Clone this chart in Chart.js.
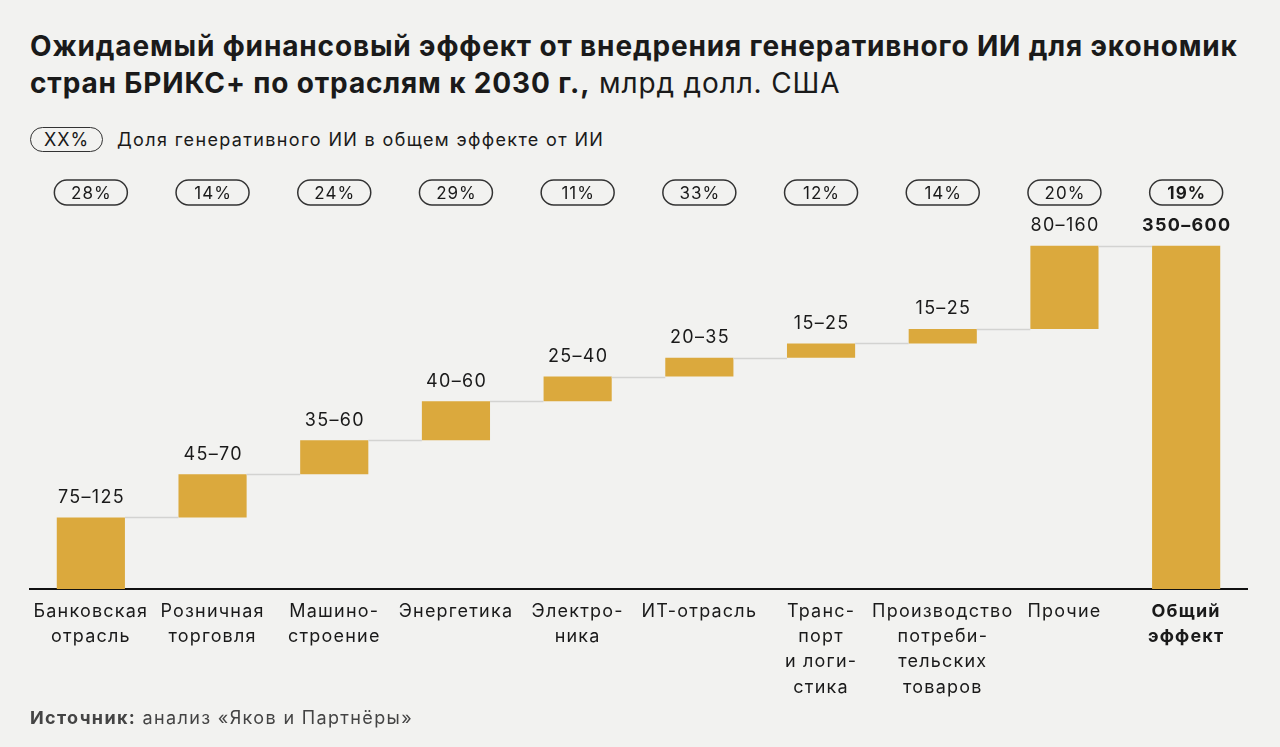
<!DOCTYPE html>
<html><head><meta charset="utf-8">
<script src="https://cdn.jsdelivr.net/npm/chart.js@4"></script>
<style>
html,body{margin:0;padding:0;background:#f2f2f0;}
body{width:1280px;height:747px;position:relative;overflow:hidden;font-family:Inter,'Noto Sans',sans-serif;color:#1a1a1a;}
#wrap{position:absolute;left:0;top:0;width:1280px;height:747px;}
.title{position:absolute;left:30px;top:28px;font-size:28px;line-height:37px;font-weight:700;white-space:nowrap;letter-spacing:0.85px;}
.title .u{font-weight:400}
.legend{position:absolute;left:30px;top:127px;height:25px;display:flex;align-items:center;font-size:18px;}
.legend span{letter-spacing:1.35px;}
.pill{border:1.5px solid #333;border-radius:13px;width:73px;height:25px;display:flex;align-items:center;justify-content:center;box-sizing:border-box;margin-right:14px;letter-spacing:1px;}
.source{position:absolute;left:30px;top:707px;font-size:18px;color:#444;letter-spacing:1.35px;}
.source b{font-weight:700;}
</style></head>
<body>
<div class="title">Ожидаемый финансовый эффект от внедрения генеративного ИИ для экономик<br>стран БРИКС+ по отраслям к 2030 г.,<span class="u"> млрд долл. США</span></div>
<div class="legend"><div class="pill">XX%</div><span>Доля генеративного ИИ в общем эффекте от ИИ</span></div>
<div id="wrap"><canvas id="c" width="1280" height="747"></canvas></div>
<div class="source"><b>Источник:</b> анализ «Яков и Партнёры»</div>
<script>
const categories = [["Банковская","отрасль"],["Розничная","торговля"],["Машино-","строение"],["Энергетика"],["Электро-","ника"],["ИТ-отрасль"],["Транс-","порт","и логи-","стика"],["Производство","потреби-","тельских","товаров"],["Прочие"],["Общий","эффект"]];
const rangeLow = [75,45,35,40,25,20,15,15,80,350];
const rangeHigh = [125,70,60,60,40,35,25,25,160,600];
const stepValues = [99,60,47,54,34,26,20,20,115];
const genAIShare = [28,14,24,29,11,33,12,14,20,19];

const n = categories.length;
const floating = [];
let acc = 0;
for (let i = 0; i < stepValues.length; i++) { floating.push([acc, acc + stepValues[i]]); acc += stepValues[i]; }
floating.push([0, acc]);
const tops = floating.map(d => d[1]);

const FONT = "Inter, 'Noto Sans', sans-serif";

const spacing = {
  id: 'spacing',
  beforeDraw(chart) { chart.ctx.letterSpacing = '1.2px'; }
};

const annot = {
  id: 'annot',
  afterDatasetsDraw(chart) {
    const ctx = chart.ctx, meta = chart.getDatasetMeta(0), y = chart.scales.y;
    ctx.save();
    ctx.strokeStyle = '#d3d3d1'; ctx.lineWidth = 1.5;
    for (let i = 0; i < n - 1; i++) {
      const a = meta.data[i], b = meta.data[i + 1];
      const yy = Math.round(y.getPixelForValue(tops[i])) + 0.5;
      ctx.beginPath(); ctx.moveTo(a.x + a.width / 2, yy); ctx.lineTo(b.x - b.width / 2, yy); ctx.stroke();
    }
    ctx.textAlign = 'center'; ctx.textBaseline = 'middle'; ctx.fillStyle = '#1a1a1a';
    for (let i = 0; i < n; i++) {
      const el = meta.data[i];
      const last = i === n - 1;
      ctx.letterSpacing = '1.3px';
      ctx.font = (last ? '700 ' : '400 ') + '18px ' + FONT;
      ctx.fillText(rangeLow[i] + '–' + rangeHigh[i], el.x + 0.6, y.getPixelForValue(tops[i]) - 20);
      const pw = 73, ph = 25, px = el.x - pw / 2, py = 180;
      ctx.beginPath(); ctx.lineWidth = 1.5; ctx.strokeStyle = '#333';
      ctx.roundRect(px, py, pw, ph, 12.5); ctx.stroke();
      ctx.letterSpacing = '1px';
      ctx.font = (last ? '700 ' : '400 ') + '17px ' + FONT;
      ctx.fillText(genAIShare[i] + '%', el.x + 0.5, py + ph / 2 + 1);
    }
    ctx.restore();
  }
};

new Chart(document.getElementById('c'), {
  type: 'bar',
  data: { labels: categories, datasets: [{ data: floating, backgroundColor: '#dba93d', borderWidth: 0, barPercentage: 0.56, categoryPercentage: 1 }] },
  options: {
    responsive: false, animation: false,
    layout: { padding: { top: 170, left: 30, right: 33, bottom: 0 } },
    plugins: { legend: { display: false }, tooltip: { enabled: false } },
    scales: {
      x: {
        grid: { display: false, drawTicks: false },
        border: { display: true, color: '#111', width: 2 },
        afterFit: s => { s.height = 158; },
        ticks: {
          color: '#1a1a1a', padding: 10, autoSkip: false, maxRotation: 0,
          font: ctx => ({ family: FONT, size: 18, weight: ctx.index === n - 1 ? '700' : '400', lineHeight: 1.4 })
        }
      },
      y: { display: false, min: 0, max: 580 }
    }
  },
  plugins: [spacing, annot]
});
</script>
</body></html>
